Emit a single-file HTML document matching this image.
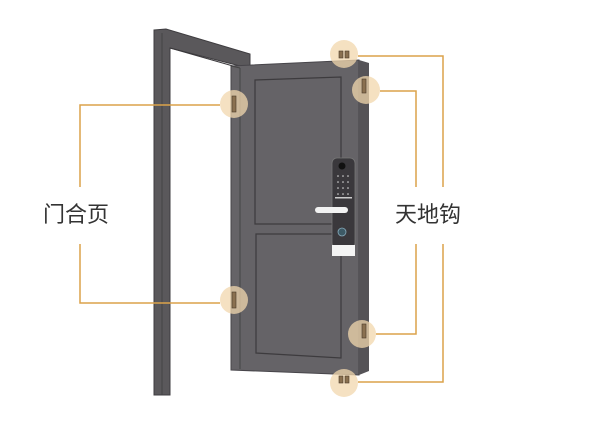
<!DOCTYPE html>
<html><head><meta charset="utf-8"><style>
html,body{margin:0;padding:0;background:#fff;width:600px;height:421px;overflow:hidden}
svg{display:block}
text{font-family:"Liberation Sans","Noto Sans CJK SC",sans-serif}
</style></head><body>
<svg width="600" height="421" viewBox="0 0 600 421">
<!-- frame -->
<polygon points="154,30 166,29 250,54 250,66 240,66 170,48 170,395 154,395" fill="#5a585b" stroke="#3f3d40" stroke-width="1"/>
<line x1="162" y1="33" x2="162" y2="395" stroke="#444" stroke-width="1"/>
<line x1="170" y1="48" x2="240" y2="68" stroke="#3a383b" stroke-width="1"/>
<!-- door -->
<polygon points="231,66 359,60 359,375 231,370" fill="#656367" stroke="#47454a" stroke-width="1"/>
<polygon points="359,60 369,63 369,371 359,375" fill="#555357"/>
<line x1="240" y1="68" x2="240" y2="369" stroke="#444" stroke-width="1"/>
<line x1="231" y1="66" x2="240" y2="68" stroke="#444"/>
<!-- panels -->
<polygon points="255,80 341,77 341,224 255,224" fill="none" stroke="#3d3b3e" stroke-width="1.2"/>
<polygon points="256,234 341,234 341,358 256,353" fill="none" stroke="#3d3b3e" stroke-width="1.2"/>
<!-- lock -->
<rect x="332" y="158" width="23" height="90" rx="5" fill="#3a383c" stroke="#777" stroke-width="0.8"/>
<circle cx="342" cy="166" r="3.5" fill="#111"/>
<g fill="#ddd"><circle cx="338" cy="176" r="0.8"/><circle cx="343" cy="176" r="0.8"/><circle cx="348" cy="176" r="0.8"/><circle cx="338" cy="182" r="0.8"/><circle cx="343" cy="182" r="0.8"/><circle cx="348" cy="182" r="0.8"/><circle cx="338" cy="188" r="0.8"/><circle cx="343" cy="188" r="0.8"/><circle cx="348" cy="188" r="0.8"/><circle cx="338" cy="194" r="0.8"/><circle cx="343" cy="194" r="0.8"/><circle cx="348" cy="194" r="0.8"/></g>
<rect x="335" y="197" width="17" height="1.5" fill="#ccc"/>
<rect x="315" y="207" width="33" height="6" rx="3" fill="#f2f2f2"/>
<circle cx="342" cy="232" r="4" fill="#3d5a66" stroke="#8ab" stroke-width="0.8"/>
<rect x="332" y="245" width="23" height="11" fill="#f4f4f4"/>
<!-- hinge circles -->
<g fill="#f2d7ad" opacity="0.75">
<circle cx="234" cy="104" r="14"/><circle cx="234" cy="300" r="14"/>
<circle cx="344" cy="54" r="14"/><circle cx="366" cy="90" r="14"/>
<circle cx="362" cy="334" r="14"/><circle cx="344" cy="383" r="14"/>
</g>
<g fill="#8a7050" stroke="#4a3a28" stroke-width="0.6">
<rect x="232" y="96" width="4" height="16"/><rect x="232" y="292" width="4" height="16"/>
<rect x="339" y="51" width="4" height="7"/><rect x="345" y="51" width="4" height="7"/>
<rect x="339" y="376" width="4" height="7"/><rect x="345" y="376" width="4" height="7"/>
<rect x="362" y="79" width="4" height="14"/><rect x="362" y="324" width="4" height="14"/>
</g>
<!-- leader lines -->
<g fill="none" stroke="#dba24a" stroke-width="1.5">
<polyline points="220,105 80,105 80,187"/>
<polyline points="80,244 80,303 220,303"/>
<polyline points="358,56 443,56 443,187"/>
<polyline points="443,244 443,382 358,382"/>
<polyline points="380,91 416,91 416,187"/>
<polyline points="416,244 416,334 376,334"/>
</g>
<text x="43" y="222" font-size="22" fill="#333">门合页</text>
<text x="395" y="222" font-size="22" fill="#333">天地钩</text>
</svg>
</body></html>
